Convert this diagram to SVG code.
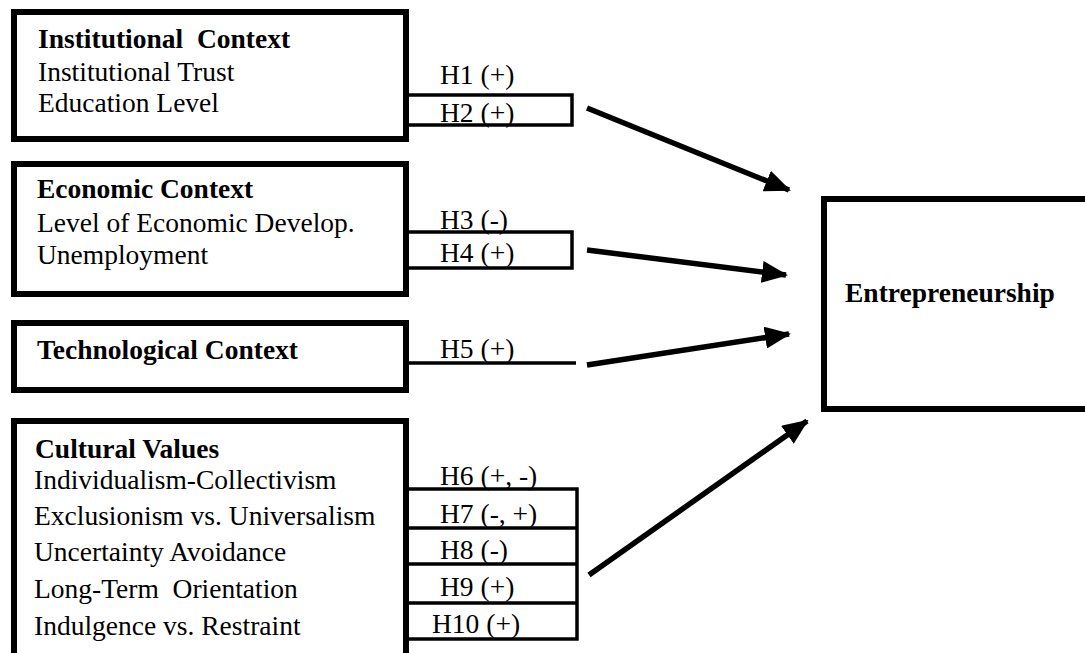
<svg xmlns="http://www.w3.org/2000/svg" width="1085" height="653" viewBox="0 0 1085 653">
<defs>
<style>
.box{fill:#fff;stroke:#000;stroke-width:6}
.hb{fill:none;stroke:#000;stroke-width:3.5}
.t{font-family:"Liberation Serif","Times New Roman",serif;font-size:27.5px;fill:#000}
.b{font-weight:bold}
.arr{stroke:#000;stroke-width:5.5;fill:none;marker-end:url(#ah)}
</style>
<marker id="ah" markerUnits="userSpaceOnUse" markerWidth="26" markerHeight="22" refX="24" refY="11" orient="auto">
<path d="M0,0 L26,11 L0,22 Z" fill="#000"/>
</marker>
</defs>
<rect width="1085" height="653" fill="#fff"/>
<g id="connectors">
<path class="hb" d="M406,95 H572 V125 H406"/>
<path class="hb" d="M406,232 H572 V268 H406"/>
<path class="hb" d="M406,363 H576"/>
<path class="hb" d="M406,489 H577 V639 H406 M406,528 H577 M406,564 H577 M406,603 H577"/>
<line class="arr" x1="587" y1="108" x2="789" y2="190"/>
<line class="arr" x1="587" y1="250" x2="786" y2="275"/>
<line class="arr" x1="587" y1="365" x2="789" y2="334"/>
<line class="arr" x1="589" y1="575" x2="807" y2="421"/>
</g>
<g id="labels" class="t">
<text x="440" y="84">H1 (+)</text>
<text x="440" y="122">H2 (+)</text>
<text x="440" y="229">H3 (-)</text>
<text x="440" y="262">H4 (+)</text>
<text x="440" y="358">H5 (+)</text>
<text x="440" y="485">H6 (+, -)</text>
<text x="440" y="523">H7 (-, +)</text>
<text x="440" y="559">H8 (-)</text>
<text x="440" y="596">H9 (+)</text>
<text x="432" y="633">H10 (+)</text>
</g>
<g id="institutional">
<rect class="box" x="14" y="12" width="392" height="127"/>
<text class="t b" x="38" y="48">Institutional&#160; Context</text>
<text class="t" x="38" y="81">Institutional Trust</text>
<text class="t" x="38" y="112">Education Level</text>
</g>
<g id="economic">
<rect class="box" x="14" y="164" width="392" height="130"/>
<text class="t b" x="37" y="198">Economic Context</text>
<text class="t" x="37" y="232">Level of Economic Develop.</text>
<text class="t" x="37" y="264">Unemployment</text>
</g>
<g id="technological">
<rect class="box" x="14" y="323" width="392" height="67"/>
<text class="t b" x="37" y="359">Technological Context</text>
</g>
<g id="cultural">
<rect class="box" x="14" y="421" width="392" height="250"/>
<text class="t b" x="35" y="458">Cultural Values</text>
<text class="t" x="34" y="489">Individualism-Collectivism</text>
<text class="t" x="34" y="525">Exclusionism vs. Universalism</text>
<text class="t" x="34" y="561">Uncertainty Avoidance</text>
<text class="t" x="34" y="598">Long-Term&#160; Orientation</text>
<text class="t" x="34" y="635">Indulgence vs. Restraint</text>
</g>
<g id="entrepreneurship">
<rect class="box" x="824" y="199" width="270" height="210"/>
<text class="t b" x="845" y="302">Entrepreneurship</text>
</g>
</svg>
